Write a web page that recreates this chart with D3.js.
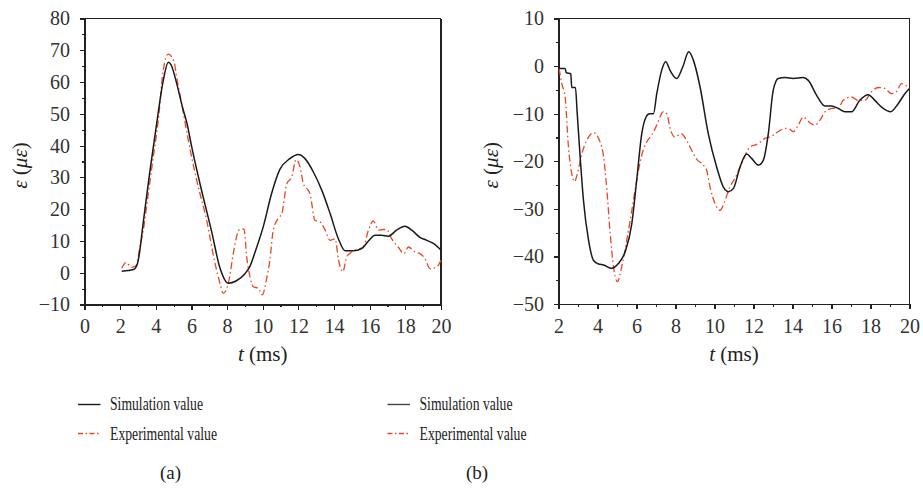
<!DOCTYPE html>
<html>
<head>
<meta charset="utf-8">
<script src="https://cdn.jsdelivr.net/npm/d3@7"></script>
<style>
  html, body { margin: 0; padding: 0; background: #fff; }
  svg { display: block; font-family: "Liberation Serif", "DejaVu Serif", serif; }
  .axis path, .axis line { stroke: #222; stroke-width: 1.2; shape-rendering: crispEdges; }
  .axis text { font-family: "Liberation Serif", serif; font-size: 20px; fill: #333; }
</style>
</head>
<body>
<svg id="chart" width="923" height="489"></svg>
<script>
// Panel (a): strain history, simulation vs. experiment
const simA_t = [2.09, 2.75, 2.95, 3.05, 3.3, 3.67, 4.05, 4.42, 4.7, 4.85, 5.17, 5.5, 5.75, 6.0, 6.48, 7.13, 7.6, 8.07, 8.5, 9.0, 9.28, 9.6, 10.03, 10.5, 10.96, 11.5, 12.0, 12.37, 12.84, 13.31, 13.78, 14.24, 14.62, 15.08, 15.55, 15.93, 16.3, 16.67, 17.05, 17.51, 17.98, 18.36, 18.82, 19.2, 19.57, 20];
const simA_v = [0.5, 1.0, 2.5, 5, 16, 32, 47, 60.5, 66.2, 65.5, 59.6, 52, 47, 40, 28, 13, 1.5, -3.3, -2.6, -0.3, 2, 7, 14.5, 25, 32.5, 35.8, 37.2, 35.9, 31.7, 26, 18.6, 10.7, 6.9, 6.9, 7.6, 10, 11.8, 11.8, 11.5, 13.4, 14.6, 13.4, 11.1, 10.2, 9.2, 7.1];

const expA_t = [2.09, 2.33, 2.65, 2.9, 3.11, 3.3, 3.58, 3.86, 4.14, 4.42, 4.7, 5.02, 5.2, 5.45, 5.82, 6.29, 6.85, 7.32, 7.6, 7.78, 8.07, 8.35, 8.53, 8.72, 8.95, 9.1, 9.28, 9.47, 9.75, 9.97, 10.22, 10.4, 10.59, 10.87, 11.07, 11.35, 11.63, 11.87, 12.09, 12.28, 12.47, 12.65, 12.93, 13.21, 13.5, 13.78, 14.06, 14.24, 14.49, 14.71, 14.99, 15.27, 15.64, 15.93, 16.2, 16.49, 16.77, 16.95, 17.23, 17.6, 17.92, 18.17, 18.54, 18.82, 19.1, 19.38, 19.76, 20];
const expA_v = [1.4, 3.2, 1.7, 2.3, 8.2, 13.4, 25, 36.5, 48, 63.8, 68.8, 66.4, 60.6, 53.3, 41.8, 29.2, 16.6, 3, -3.3, -6.5, -3.3, 6.1, 11.3, 13.7, 13.7, 5, -1.2, -4.4, -4.9, -7, -1.8, 4, 13.4, 17.1, 18.6, 28, 30.2, 35.6, 33.3, 28, 26.5, 24.9, 16.5, 16, 13.4, 10.2, 10.7, 4.4, 0.3, 5, 6.5, 7.3, 8.1, 13.4, 16.3, 13.4, 13.6, 13.6, 10.7, 8.1, 6, 8.1, 6.5, 6, 4.4, 1.3, 1.8, 3.9];

// Panel (b)
const simB_t = [2.0, 2.34, 2.4, 2.63, 2.68, 2.87, 2.95, 3.11, 3.28, 3.54, 3.79, 4.05, 4.31, 4.73, 5.07, 5.42, 5.76, 6.01, 6.27, 6.49, 6.66, 6.87, 7.04, 7.29, 7.5, 7.72, 8.06, 8.37, 8.68, 8.92, 9.26, 9.68, 10.11, 10.45, 10.71, 10.97, 11.31, 11.65, 11.9, 12.25, 12.5, 12.76, 13.01, 13.27, 13.61, 14.04, 14.55, 14.81, 15.23, 15.66, 16.0, 16.34, 16.69, 17.03, 17.45, 17.88, 18.22, 18.65, 19.03, 19.42, 19.76, 20];
const simB_v = [-0.5, -0.5, -1.4, -1.6, -4.5, -4.5, -9.3, -19.1, -28.2, -36.6, -40.8, -41.6, -41.8, -42.5, -41.5, -39, -33.1, -24, -14.2, -10.7, -10, -10, -5.8, -0.9, 0.9, -0.9, -2.6, -0.2, 3, 1.2, -4.4, -14.2, -21.2, -25.4, -26.4, -25.7, -21.2, -18.5, -19.4, -20.8, -19.8, -14.2, -5.1, -2.6, -2.4, -2.6, -2.4, -3, -6.1, -8.4, -8.4, -8.9, -9.6, -9.6, -7.2, -6, -7.2, -8.9, -9.6, -7.9, -5.8, -4.7];

const expB_t = [2.03, 2.17, 2.34, 2.51, 2.68, 2.82, 2.97, 3.2, 3.45, 3.79, 4.1, 4.31, 4.48, 4.65, 4.82, 5.02, 5.24, 5.5, 5.76, 5.98, 6.27, 6.53, 6.78, 7.04, 7.38, 7.55, 7.75, 7.98, 8.28, 8.57, 8.83, 9.09, 9.43, 9.6, 9.77, 10.03, 10.28, 10.54, 10.79, 11.05, 11.39, 11.82, 12.25, 12.59, 12.93, 13.27, 13.61, 13.87, 14.04, 14.3, 14.55, 14.89, 15.15, 15.4, 15.75, 16.09, 16.34, 16.6, 17.03, 17.37, 17.71, 18.05, 18.39, 18.73, 19.08, 19.33, 19.59, 20];
const expB_v = [-0.5, -3.7, -6.5, -17, -22.6, -24.3, -22.6, -18.4, -15.6, -14, -15.6, -19, -26, -35.2, -42.2, -45.3, -42.2, -36.6, -30.3, -24.7, -18.7, -15.9, -14.5, -12.4, -9.6, -10, -13.5, -14.9, -14.2, -15.6, -17.7, -19.6, -20.8, -21.9, -25.4, -28.9, -30.3, -28.2, -25.4, -23.6, -20.5, -17, -16.3, -15.2, -14.7, -13.8, -13.1, -13.3, -13.8, -12.4, -10.7, -11.9, -12.4, -11.4, -9.3, -8.9, -8.9, -7.2, -6.5, -7.2, -7.2, -5.4, -4.5, -4.7, -5.8, -5.4, -3.7, -4.7];

const seriesNames = ["Simulation value", "Experimental value"];
const panelLabels = ["(a)", "(b)"];

const SIM_COLOR = "#1a1a1a";
const EXP_COLOR = "#ee4422";
const EXP_DASH = "7,3,1.5,3";

const svg = d3.select("#chart");

function zip(ts, vs) { return ts.map((t, i) => ({ t, v: vs[i] })); }

function minus(d) { return d < 0 ? "\u2212" + Math.abs(d) : String(d); }

function drawPanel(p) {
  const x = d3.scaleLinear().domain(p.xDomain).range([p.left, p.right]);
  const y = d3.scaleLinear().domain(p.yDomain).range([p.bottom, p.top]);
  const g = svg.append("g");

  const xMajor = d3.range(p.xDomain[0], p.xDomain[1] + 0.001, 2);
  const xMinor = d3.range(p.xDomain[0] + 1, p.xDomain[1], 2);
  const yMajor = d3.range(p.yDomain[0], p.yDomain[1] + 0.001, 10);
  const yMinor = d3.range(p.yDomain[0] + 5, p.yDomain[1], 10);

  // minor ticks
  g.append("g").attr("class", "axis").attr("transform", `translate(0,${p.bottom})`)
    .call(d3.axisBottom(x).tickValues(xMinor).tickSize(2.5).tickSizeOuter(0).tickFormat(""))
    .call(s => s.select(".domain").remove());
  g.append("g").attr("class", "axis").attr("transform", `translate(${p.left},0)`)
    .call(d3.axisLeft(y).tickValues(yMinor).tickSize(2.5).tickSizeOuter(0).tickFormat(""))
    .call(s => s.select(".domain").remove());

  // major ticks with labels
  g.append("g").attr("class", "axis").attr("transform", `translate(0,${p.bottom})`)
    .call(d3.axisBottom(x).tickValues(xMajor).tickSize(5).tickSizeOuter(0).tickPadding(9.3).tickFormat(minus));
  g.append("g").attr("class", "axis").attr("transform", `translate(${p.left},0)`)
    .call(d3.axisLeft(y).tickValues(yMajor).tickSize(5).tickSizeOuter(0).tickPadding(9.5).tickFormat(minus));

  // frame top and right
  g.append("line").attr("x1", p.left).attr("x2", p.right).attr("y1", p.top).attr("y2", p.top)
    .attr("stroke", "#222").attr("stroke-width", 1.2).attr("shape-rendering", "crispEdges");
  g.append("line").attr("x1", p.right).attr("x2", p.right).attr("y1", p.top).attr("y2", p.bottom)
    .attr("stroke", "#222").attr("stroke-width", 1.2).attr("shape-rendering", "crispEdges");

  const line = d3.line().x(d => x(d.t)).y(d => y(d.v)).curve(d3.curveMonotoneX);

  g.append("path").datum(p.exp).attr("d", line)
    .attr("fill", "none").attr("stroke", EXP_COLOR).attr("stroke-width", 1.3)
    .attr("stroke-dasharray", EXP_DASH);
  g.append("path").datum(p.sim).attr("d", line)
    .attr("fill", "none").attr("stroke", SIM_COLOR).attr("stroke-width", 1.5);

  // axis titles
  const xt = g.append("text").attr("x", (p.left + p.right) / 2).attr("y", 361)
    .attr("text-anchor", "middle").attr("font-size", 21).attr("fill", "#222");
  xt.append("tspan").attr("font-style", "italic").text("t");
  xt.append("tspan").text(" (ms)");

  const yt = g.append("text").attr("transform", `translate(${p.yTitleX},${(p.top + p.bottom) / 2 + 4}) rotate(-90)`)
    .attr("text-anchor", "middle").attr("font-size", 21).attr("fill", "#222");
  yt.append("tspan").attr("font-style", "italic").text("\u03b5");
  yt.append("tspan").text(" (");
  yt.append("tspan").attr("font-style", "italic").text("\u03bc\u03b5");
  yt.append("tspan").text(")");

  // legend
  const leg = svg.append("g");
  const rows = [
    { name: seriesNames[0], y: 404.5, color: p.legendSimColor, dash: null, w: 93, base: 410 },
    { name: seriesNames[1], y: 433.5, color: EXP_COLOR, dash: "5,2.5,1.5,2.5", w: 107, base: 440 }
  ];
  rows.forEach(r => {
    leg.append("line").attr("x1", p.legX).attr("x2", p.legX + 22.5).attr("y1", r.y).attr("y2", r.y)
      .attr("stroke", r.color).attr("stroke-width", 1.4).attr("stroke-dasharray", r.dash);
    leg.append("text").attr("x", p.legX + 32).attr("y", r.base)
      .attr("font-size", 19.5).attr("fill", "#222")
      .attr("textLength", r.w).attr("lengthAdjust", "spacingAndGlyphs")
      .text(r.name);
  });

  svg.append("text").attr("x", p.labelX).attr("y", 479).attr("text-anchor", "middle")
    .attr("font-size", 19).attr("fill", "#222").text(p.label);
}

drawPanel({
  xDomain: [0, 20], yDomain: [-10, 80],
  left: 84.5, right: 441, top: 18.5, bottom: 304.5,
  sim: zip(simA_t, simA_v), exp: zip(expA_t, expA_v),
  yTitleX: 27, legX: 78, legendSimColor: "#1a1a1a",
  labelX: 170.5, label: panelLabels[0]
});

drawPanel({
  xDomain: [2, 20], yDomain: [-50, 10],
  left: 558.5, right: 909.5, top: 18.5, bottom: 304,
  sim: zip(simB_t, simB_v), exp: zip(expB_t, expB_v),
  yTitleX: 497.5, legX: 387.5, legendSimColor: "#444",
  labelX: 477, label: panelLabels[1]
});
</script>
</body>
</html>
